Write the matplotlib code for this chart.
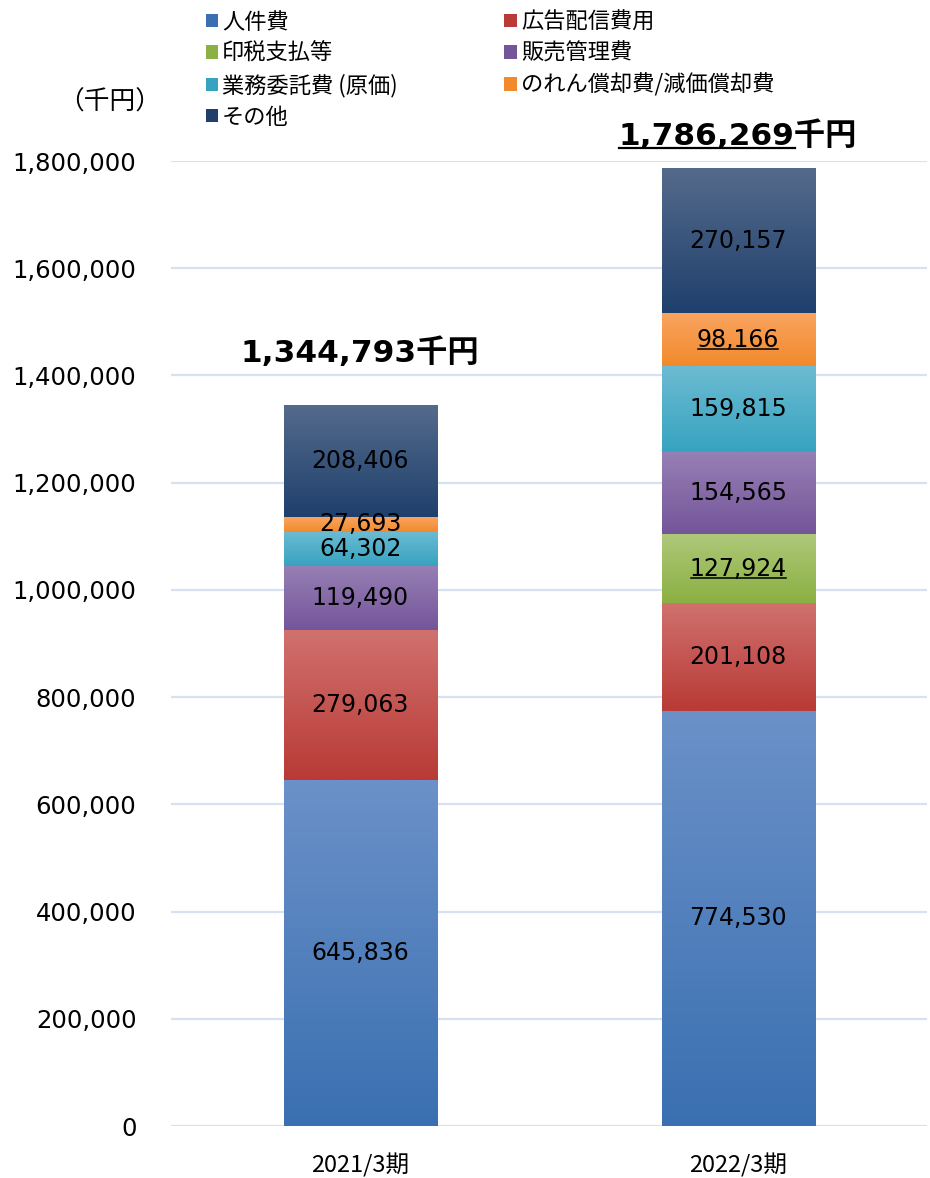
import numpy as np
import matplotlib.pyplot as plt
from matplotlib.patches import Patch
from matplotlib.colors import to_rgb

plt.rcParams['font.family'] = ['DejaVu Sans', 'Noto Sans CJK JP']

periods = ['2021/3期', '2022/3期']
categories = ['人件費', '広告配信費用', '印税支払等', '販売管理費',
              '業務委託費 (原価)', 'のれん償却費/減価償却費', 'その他']
values = {
    '人件費': [645836, 774530],
    '広告配信費用': [279063, 201108],
    '印税支払等': [0, 127924],
    '販売管理費': [119490, 154565],
    '業務委託費 (原価)': [64302, 159815],
    'のれん償却費/減価償却費': [27693, 98166],
    'その他': [208406, 270157],
}
totals = ['1,344,793', '1,786,269']
yticks = [0, 200000, 400000, 600000, 800000, 1000000, 1200000, 1400000, 1600000, 1800000]

# (top colour, bottom colour) for the vertical gradient
colors = {
    '人件費': ('#6b91c8', '#3a70b1'),
    '広告配信費用': ('#d0716e', '#b93a36'),
    '印税支払等': ('#aec878', '#8bb043'),
    '販売管理費': ('#9780b5', '#74559a'),
    '業務委託費 (原価)': ('#6cbbd2', '#37a3c0'),
    'のれん償却費/減価償却費': ('#f9a45f', '#f28a2c'),
    'その他': ('#546a8b', '#1f406d'),
}
underlined = {('のれん償却費/減価償却費', 1), ('印税支払等', 1)}

fig = plt.figure(figsize=(9.3, 11.78), dpi=100)
ax = fig.add_axes([0.184, 0.0441, 0.813, 0.8192])

x = np.arange(len(periods))
width = 0.405
bottoms = np.zeros(len(periods))
seg_texts = []

for cat in categories:
    vals = np.array(values[cat], dtype=float)
    top_c, bot_c = colors[cat]
    for i in range(len(periods)):
        if vals[i] <= 0:
            continue
        y0, y1 = bottoms[i], bottoms[i] + vals[i]
        grad = np.linspace(0, 1, 64)[:, None, None]
        c0 = np.array(to_rgb(bot_c))
        c1 = np.array(to_rgb(top_c))
        img = c0 + (c1 - c0) * grad
        ax.imshow(img, extent=[x[i] - width / 2, x[i] + width / 2, y0, y1],
                  origin='lower', aspect='auto', zorder=2, interpolation='bilinear')
        t = ax.text(x[i], (y0 + y1) / 2, f'{int(vals[i]):,}', ha='center', va='center',
                    fontsize=17, color='black', zorder=4)
        if (cat, i) in underlined:
            seg_texts.append(t)
    bottoms += vals

ax.set_xlim(-0.5, 1.5)
ax.set_ylim(0, 1800000)
ax.set_yticks(yticks)
ax.set_yticklabels([f'{v:,}' for v in yticks], fontsize=17.5)
ax.set_xticks(x)
ax.set_xticklabels(periods, fontsize=17, family=['Noto Sans CJK JP'])
ax.tick_params(length=0)
ax.tick_params(axis='y', pad=25)
ax.tick_params(axis='x', pad=20)
ax.grid(axis='y', color='#d6e2f4', linewidth=1.6, zorder=0)
ax.set_axisbelow(True)
for s in ax.spines.values():
    s.set_visible(False)

# totals above bars
offsets = [52, 33]
total_texts = []
for i in range(len(periods)):
    t = ax.annotate(totals[i] + '千円', (x[i], bottoms[i]), xytext=(0, offsets[i]),
                    textcoords='offset pixels', ha='center', va='center',
                    fontsize=22.5, fontweight='bold', annotation_clip=False)
    total_texts.append(t)

fig.text(0.062, 0.913, '（千円）', fontsize=18.5, family=['Noto Sans CJK JP'],
         ha='left', va='center')

# legend, filled column-wise
order = ['人件費', '印税支払等', '業務委託費 (原価)', 'その他',
         '広告配信費用', '販売管理費', 'のれん償却費/減価償却費']
handles = [Patch(facecolor=colors[c][1], edgecolor='none', label=c) for c in order]
fig.legend(handles=handles, loc='upper left', bbox_to_anchor=(0.1995, 1.008), ncol=2,
           frameon=False, prop={'family': ['Noto Sans CJK JP'], 'size': 16},
           handlelength=0.55, handleheight=0.55, handletextpad=0.2,
           columnspacing=4.8, labelspacing=0.38)

# underlines
fig.canvas.draw()
r = fig.canvas.get_renderer()
inv = fig.transFigure.inverted()


def underline(bb, lw):
    (xa, ya), (xb, _) = inv.transform([(bb.x0, bb.y0), (bb.x1, bb.y0)])
    fig.add_artist(plt.Line2D([xa, xb], [ya, ya], color='black', lw=lw,
                              transform=fig.transFigure, zorder=5))


for t in seg_texts:
    bb = t.get_window_extent(r)
    underline(type(bb).from_extents(bb.x0 + 1, bb.y0 + 3, bb.x1 - 1, bb.y1), 1.1)

# only the number of the 2022 total is underlined
t = total_texts[1]
bb = t.get_window_extent(r)
tmp = fig.text(0, 0, totals[1], fontsize=22.5, fontweight='bold')
wnum = tmp.get_window_extent(r).width
tmp.remove()
underline(type(bb).from_extents(bb.x0, bb.y0 + 3, bb.x0 + wnum, bb.y1), 1.6)

fig.savefig('out.png', dpi=100)
plt.close(fig)
